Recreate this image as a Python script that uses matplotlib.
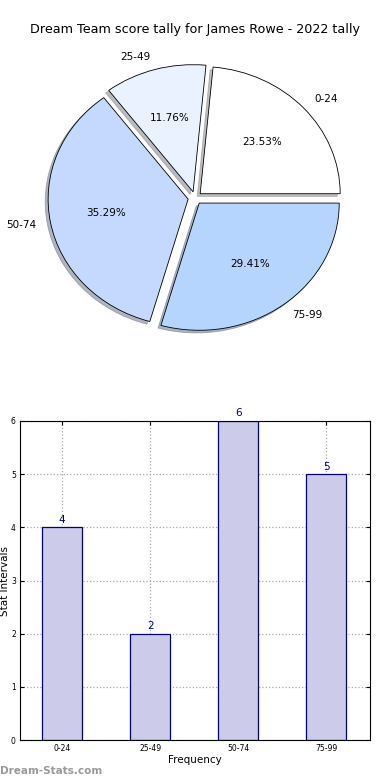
import matplotlib
matplotlib.use('Agg')
import matplotlib.pyplot as plt
import numpy as np

# data
categories = ['0-24', '25-49', '50-74', '75-99']
counts = [4, 2, 6, 5]
pie_colors = ['#ffffff', '#eaf1ff', '#c5d9ff', '#b5d5ff']
title = 'Dream Team score tally for James Rowe - 2022 tally'

fig = plt.figure(figsize=(3.9, 7.8), dpi=100)

# pie on top
ax1 = fig.add_axes([20 / 390, 1 - 357 / 780, 350 / 390, 318 / 780])
ax1.pie(counts, labels=categories, colors=pie_colors, autopct='%1.2f%%',
        explode=[0.05] * len(counts), startangle=0,
        shadow={'ox': -0.015, 'oy': -0.015, 'shade': 0.5},
        wedgeprops=dict(edgecolor='black', linewidth=0.6),
        textprops=dict(fontsize=7.5))
ax1.set_aspect('auto')
ax1.set_xlim(-1.25, 1.25)
ax1.set_ylim(-1.25, 1.25)
fig.text(0.5, 1 - 30 / 780, title, ha='center', va='center', fontsize=9.2)

# bar chart below
ax2 = fig.add_axes([20 / 390, 1 - 740 / 780, 350 / 390, 319 / 780])
x = np.arange(len(categories))
ax2.bar(x, counts, width=0.45, color='#ccccea', edgecolor='#000080', linewidth=0.9, zorder=2)
for xi, c in zip(x, counts):
    ax2.text(xi, c + 0.05, str(c), ha='center', va='bottom', fontsize=7.5, color='#000080')
ax2.set_xlim(-0.48, 3.5)
ax2.set_ylim(0, 6)
ax2.set_xticks(x)
ax2.set_xticklabels(categories)
ax2.set_yticks(range(7))
ax2.tick_params(labelsize=5.5, direction='in', top=True, right=True, length=3, pad=3)
ax2.grid(True, linestyle=':', color='#aaaaaa', linewidth=0.9, zorder=0)
ax2.set_axisbelow(True)
ax2.set_xlabel('Frequency', fontsize=7.5, labelpad=1)
ax2.set_ylabel('Stat Intervals', fontsize=7.5, labelpad=1)

fig.text(0, 1 - 771 / 780, 'Dream-Stats.com', ha='left', va='center',
         fontsize=7.5, color='#999999', fontweight='bold')

fig.savefig('out.png', dpi=100)
